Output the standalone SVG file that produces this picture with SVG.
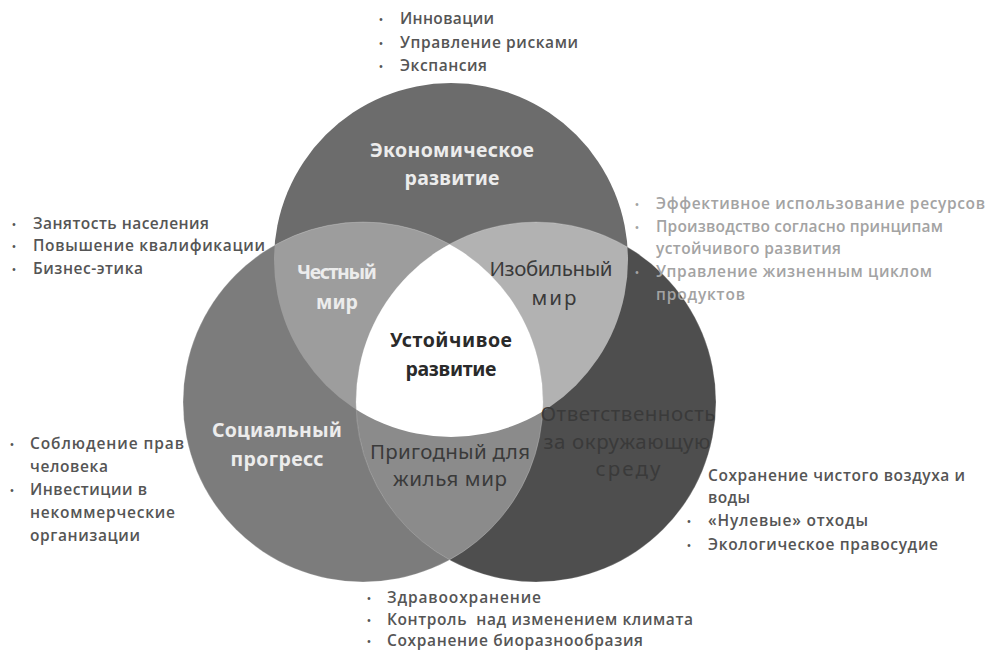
<svg xmlns="http://www.w3.org/2000/svg" width="988" height="652" viewBox="0 0 988 652">
<style>
.li{font-family:"Open Sans","Noto Sans",sans-serif;font-weight:600;font-size:15.5px;fill:#555}
.lil{fill:#a3a3a3}
.bu{font-family:"Open Sans",sans-serif;font-size:13px;text-anchor:middle}
.bw{font-family:"Noto Sans","Open Sans",sans-serif;font-weight:700;font-size:19.5px;fill:#ececec;text-anchor:middle}
.bd{font-family:"Noto Sans","Open Sans",sans-serif;font-weight:700;font-size:19.5px;fill:#2a2a2a;text-anchor:middle}
.rd{font-family:"Noto Sans","Open Sans",sans-serif;font-weight:400;font-size:20.5px;fill:#3a3a3a;text-anchor:middle}
.edge{fill:none;stroke:#ffffff;stroke-opacity:0.22;stroke-width:1}
</style>
<defs>
<circle id="cT" cx="451" cy="260" r="177"/>
<circle id="cL" cx="363" cy="402" r="180"/>
<circle id="cR" cx="536" cy="402" r="180"/>
<clipPath id="clipT"><use href="#cT"/></clipPath>
<clipPath id="clipL"><use href="#cL"/></clipPath>
</defs>
<rect width="988" height="652" fill="#ffffff"/>

<g id="node-economic">
<use href="#cT" fill="#6c6c6c"/>
</g>
<g id="node-social">
<use href="#cL" fill="#7c7c7c"/>
</g>
<g id="node-environment">
<use href="#cR" fill="#4e4e4e"/>
</g>
<g id="node-fair-world">
<use href="#cL" fill="#9d9d9d" clip-path="url(#clipT)"/>
</g>
<g id="node-abundant-world">
<use href="#cR" fill="#b2b2b2" clip-path="url(#clipT)"/>
</g>
<g id="node-livable-world">
<use href="#cR" fill="#8b8b8b" clip-path="url(#clipL)"/>
</g>
<g id="node-sustainable">
<g clip-path="url(#clipT)"><use href="#cR" fill="#ffffff" clip-path="url(#clipL)"/></g>
</g>
<g id="edges">
<use href="#cL" class="edge"/>
<use href="#cR" class="edge"/>
</g>

<g id="labels">
<text class="bw" x="452" y="157" textLength="164" lengthAdjust="spacing">Экономическое</text>
<text class="bw" x="452" y="185" textLength="95" lengthAdjust="spacing">развитие</text>
<text class="bw" x="337" y="279" textLength="80" lengthAdjust="spacing">Честный</text>
<text class="bw" x="337" y="309" textLength="42" lengthAdjust="spacing">мир</text>
<text class="rd" x="551" y="276" textLength="123" lengthAdjust="spacing">Изобильный</text>
<text class="rd" x="554" y="305" textLength="45" lengthAdjust="spacing">мир</text>
<text class="bd" x="451" y="347" textLength="122" lengthAdjust="spacing">Устойчивое</text>
<text class="bd" x="451" y="376" textLength="91" lengthAdjust="spacing">развитие</text>
<text class="bw" x="277" y="437" textLength="130" lengthAdjust="spacing">Социальный</text>
<text class="bw" x="277" y="466" textLength="93" lengthAdjust="spacing">прогресс</text>
<text class="rd" x="450" y="459" textLength="160" lengthAdjust="spacing">Пригодный для</text>
<text class="rd" x="450" y="486" textLength="114" lengthAdjust="spacing">жилья мир</text>
<text class="rd" x="628" y="421" textLength="175" lengthAdjust="spacing">Ответственность</text>
<text class="rd" x="627" y="449" textLength="167" lengthAdjust="spacing">за окружающую</text>
<text class="rd" x="628" y="476" textLength="65" lengthAdjust="spacing">среду</text>
</g>

<g id="list-top">
<text class="bu" x="381" y="24" fill="#555">•</text>
<text class="bu" x="381" y="48" fill="#555">•</text>
<text class="bu" x="381" y="71" fill="#555">•</text>
<text class="li" x="400" y="24" textLength="94" lengthAdjust="spacing">Инновации</text>
<text class="li" x="400" y="48" textLength="178" lengthAdjust="spacing">Управление рисками</text>
<text class="li" x="400" y="71" textLength="87" lengthAdjust="spacing">Экспансия</text>
</g>

<g id="list-left-top">
<text class="bu" x="14" y="229" fill="#555">•</text>
<text class="bu" x="14" y="251" fill="#555">•</text>
<text class="bu" x="14" y="274" fill="#555">•</text>
<text class="li" x="33" y="229" textLength="176" lengthAdjust="spacing">Занятость населения</text>
<text class="li" x="33" y="251" textLength="232" lengthAdjust="spacing">Повышение квалификации</text>
<text class="li" x="33" y="274" textLength="110" lengthAdjust="spacing">Бизнес-этика</text>
</g>

<g id="list-right-top">
<text class="bu" x="637" y="209" fill="#a3a3a3">•</text>
<text class="bu" x="637" y="232" fill="#a3a3a3">•</text>
<text class="bu" x="637" y="277" fill="#a3a3a3">•</text>
<text class="li lil" x="656" y="209" textLength="329" lengthAdjust="spacing">Эффективное использование ресурсов</text>
<text class="li lil" x="656" y="232" textLength="287" lengthAdjust="spacing">Производство согласно принципам</text>
<text class="li lil" x="656" y="254" textLength="185" lengthAdjust="spacing">устойчивого развития</text>
<text class="li lil" x="656" y="277" textLength="276" lengthAdjust="spacing">Управление жизненным циклом</text>
<text class="li lil" x="656" y="300" textLength="89" lengthAdjust="spacing">продуктов</text>
</g>

<g id="list-left-bottom">
<text class="bu" x="12" y="449" fill="#555">•</text>
<text class="bu" x="12" y="495" fill="#555">•</text>
<text class="li" x="30" y="449" textLength="154" lengthAdjust="spacing">Соблюдение прав</text>
<text class="li" x="30" y="472" textLength="78" lengthAdjust="spacing">человека</text>
<text class="li" x="30" y="495" textLength="117" lengthAdjust="spacing">Инвестиции в</text>
<text class="li" x="30" y="518" textLength="145" lengthAdjust="spacing">некоммерческие</text>
<text class="li" x="30" y="541" textLength="110" lengthAdjust="spacing">организации</text>
</g>

<g id="list-right-bottom">
<text class="bu" x="689" y="526" fill="#555">•</text>
<text class="bu" x="689" y="550" fill="#555">•</text>
<text class="li" x="708" y="481" textLength="257" lengthAdjust="spacing">Сохранение чистого воздуха и</text>
<text class="li" x="708" y="503" textLength="42" lengthAdjust="spacing">воды</text>
<text class="li" x="708" y="526" textLength="160" lengthAdjust="spacing">«Нулевые» отходы</text>
<text class="li" x="708" y="550" textLength="230" lengthAdjust="spacing">Экологическое правосудие</text>
</g>

<g id="list-bottom">
<text class="bu" x="369" y="603" fill="#555">•</text>
<text class="bu" x="369" y="625" fill="#555">•</text>
<text class="bu" x="369" y="646" fill="#555">•</text>
<text class="li" x="387" y="603" textLength="154" lengthAdjust="spacing">Здравоохранение</text>
<text class="li" x="387" y="625" textLength="306" lengthAdjust="spacing" xml:space="preserve">Контроль  над изменением климата</text>
<text class="li" x="387" y="646" textLength="256" lengthAdjust="spacing">Сохранение биоразнообразия</text>
</g>
</svg>
